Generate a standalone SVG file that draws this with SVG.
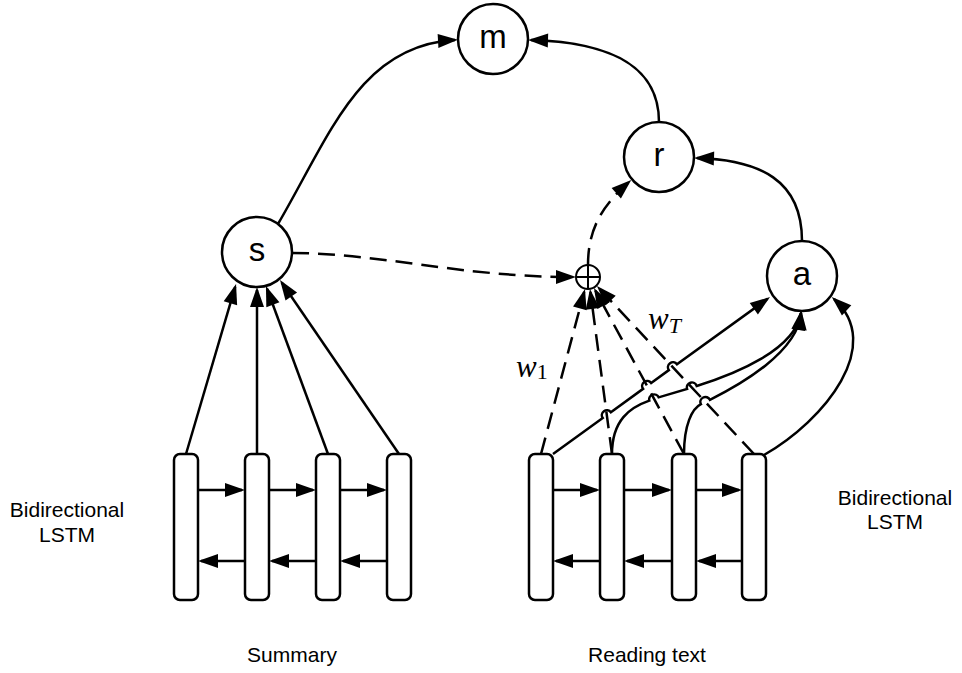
<svg xmlns="http://www.w3.org/2000/svg" width="962" height="673" viewBox="0 0 962 673">
  <style>
    .node { fill: #fff; stroke: #000; stroke-width: 2.5; }
    .bar { fill: #fff; stroke: #000; stroke-width: 2.5; }
    .ln { fill: none; stroke: #000; stroke-width: 2.5; marker-end: url(#arrow); }
    .dash { stroke-dasharray: 17 9; }
    .lbl { font-family: "Liberation Sans", Arial, sans-serif; font-size: 33px; text-anchor: middle; fill: #000; }
    .cap { font-family: "Liberation Sans", Arial, sans-serif; font-size: 21px; text-anchor: middle; fill: #000; }
    .math { font-family: "Liberation Serif", "Times New Roman", serif; font-size: 31px; font-style: italic; fill: #000; }
  </style>
  <defs>
    <marker id="arrow" markerUnits="userSpaceOnUse" markerWidth="20" markerHeight="14" refX="17" refY="7" orient="auto" overflow="visible">
      <path d="M0,0 L20,7 L0,14 z" fill="#000"/>
    </marker>
  </defs>

  <rect width="962" height="673" fill="#fff"/>

  <!-- summary encoder cells -->
  <g id="sum-1"><rect class="bar" x="174" y="454" width="24" height="146" rx="6"/></g>
  <g id="sum-2"><rect class="bar" x="245" y="454" width="24" height="146" rx="6"/></g>
  <g id="sum-3"><rect class="bar" x="316" y="454" width="24" height="146" rx="6"/></g>
  <g id="sum-4"><rect class="bar" x="387" y="454" width="24" height="146" rx="6"/></g>

  <!-- reading text encoder cells -->
  <g id="read-1"><rect class="bar" x="529" y="454" width="24" height="146" rx="6"/></g>
  <g id="read-2"><rect class="bar" x="600" y="454" width="24" height="146" rx="6"/></g>
  <g id="read-3"><rect class="bar" x="672" y="454" width="24" height="146" rx="6"/></g>
  <g id="read-4"><rect class="bar" x="742" y="454" width="24" height="146" rx="6"/></g>

  <!-- state nodes -->
  <g id="node-m"><circle class="node" cx="493" cy="39" r="35"/><text class="lbl" x="493" y="48">m</text></g>
  <g id="node-r"><circle class="node" cx="659" cy="157" r="35"/><text class="lbl" x="659" y="166">r</text></g>
  <g id="node-s"><circle class="node" cx="257" cy="252" r="35"/><text class="lbl" x="257" y="261">s</text></g>
  <g id="node-a"><circle class="node" cx="802" cy="276" r="35"/><text class="lbl" x="802" y="285">a</text></g>
  <g id="node-sum">
    <circle cx="588" cy="277" r="12" fill="#fff" stroke="#000" stroke-width="2"/>
    <path d="M576,277 H600 M588,265 V289" stroke="#000" stroke-width="2" fill="none"/>
  </g>

  <g id="connectors">
    <!-- forward / backward recurrences, summary -->
    <path class="ln" d="M198,490 H242"/>
    <path class="ln" d="M269,490 H313"/>
    <path class="ln" d="M340,490 H384"/>
    <path class="ln" d="M245,561 H201"/>
    <path class="ln" d="M316,561 H272"/>
    <path class="ln" d="M387,561 H343"/>
    <!-- forward / backward recurrences, reading text -->
    <path class="ln" d="M553,490 H597"/>
    <path class="ln" d="M624,490 H669"/>
    <path class="ln" d="M696,490 H739"/>
    <path class="ln" d="M600,561 H556"/>
    <path class="ln" d="M672,561 H627"/>
    <path class="ln" d="M742,561 H699"/>

    <!-- summary cells into s -->
    <path class="ln" d="M186,454 L235.2,286.9"/>
    <path class="ln" d="M257,454 L257,290"/>
    <path class="ln" d="M328,454 L267,288.8"/>
    <path class="ln" d="M399,454 L281.7,282.5"/>

    <!-- s and r into m, a into r -->
    <path class="ln" d="M278,224 C330,135 360,45 455,40"/>
    <path class="ln" d="M659,122 C659,60 600,42 531,40"/>
    <path class="ln" d="M802,241 C802,180 760,160 697,158"/>

    <!-- s into the weighted sum, sum into r -->
    <path class="ln dash" d="M292,253 C380,253 460,277 573,277"/>
    <path class="ln dash" d="M588,265 C588,228 603,205 629,182"/>

    <!-- attention weights w1 .. wT -->
    <path class="ln dash" d="M541,454 L584.2,291.9"/>
    <path class="ln dash" d="M612,454 L590.4,292"/>
    <path class="ln dash" d="M684,454 L595.4,290.6"/>
    <path class="ln dash" d="M754,454 L599,288.2"/>

    <!-- reading cells into a, hopping over the weight lines -->
    <path class="ln" d="M553,454 L602.75,418.03 A5,5 0 0 1 610.85,412.17 L643.05,388.83 A5,5 0 0 1 651.15,382.97 L668.85,370.13 A5,5 0 0 1 676.95,364.27 L767.6,298.8"/>
    <path class="ln" d="M612,454 C612,420 630,407.4 649.3,400.65 A5,5 0 0 1 658.7,397.35 L687.1,389 A5,5 0 0 1 696.7,386 C734.9,374.2 795,350 801,313"/>
    <path class="ln" d="M684,454 C684,425 692,408.7 700.9,404.2 A5,5 0 0 1 709.9,399.8 C739.9,384.8 798,352 801,313"/>
    <path class="ln" d="M764,455 C825,420 885,345 834,299"/>
  </g>

  <!-- weight labels -->
  <text class="math" x="516" y="377">w<tspan font-style="normal" font-size="22" dy="2">1</tspan></text>
  <text class="math" x="648" y="329">w<tspan font-size="22" dy="4">T</tspan></text>

  <!-- captions -->
  <text class="cap" x="67" y="517">Bidirectional</text>
  <text class="cap" x="67" y="542">LSTM</text>
  <text class="cap" x="895" y="505">Bidirectional</text>
  <text class="cap" x="895" y="529">LSTM</text>
  <text class="cap" x="292" y="662">Summary</text>
  <text class="cap" x="647" y="662">Reading text</text>
</svg>
